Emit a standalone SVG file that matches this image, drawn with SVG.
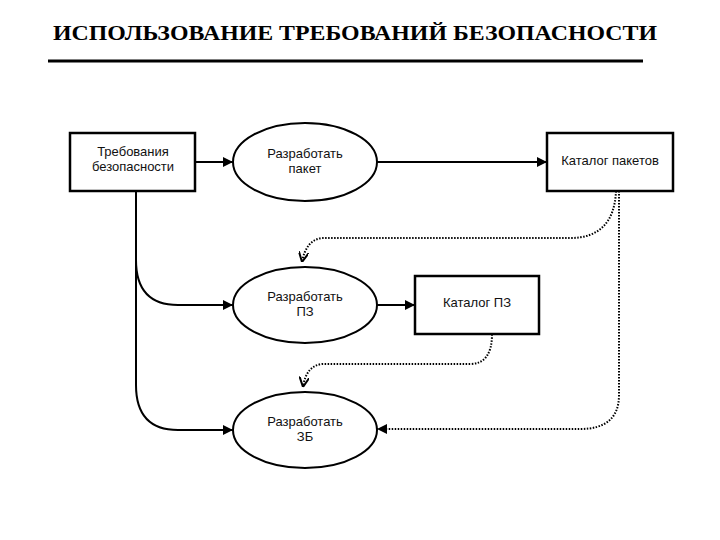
<svg xmlns="http://www.w3.org/2000/svg" width="720" height="540" viewBox="0 0 720 540">
<style>
.title{font-family:"Liberation Serif","Times New Roman",serif;font-weight:bold;font-size:22px;fill:#000}
.lbl{font-family:"Liberation Sans",Arial,sans-serif;font-size:13px;fill:#111;text-anchor:middle}
.box{fill:#fff;stroke:#000;stroke-width:2.5}
.ell{fill:#fff;stroke:#000;stroke-width:2}
.solid{fill:none;stroke:#000;stroke-width:2}
.dot{fill:none;stroke:#000;stroke-width:2;stroke-dasharray:1.5 1.5}
</style>
<defs>
<marker id="tri" viewBox="0 0 10 10" refX="10" refY="5" markerWidth="10" markerHeight="10" markerUnits="userSpaceOnUse" orient="auto">
<path d="M0,0 L10,5 L0,10 z" fill="#000"/>
</marker>
<marker id="vee" viewBox="0 0 10 10" refX="10" refY="5" markerWidth="10" markerHeight="10" markerUnits="userSpaceOnUse" orient="auto">
<path d="M0,0 L10,5 L0,10" fill="none" stroke="#000" stroke-width="2"/>
</marker>
</defs>
<text class="title" x="355" y="40" text-anchor="middle" textLength="604" lengthAdjust="spacingAndGlyphs">ИСПОЛЬЗОВАНИЕ ТРЕБОВАНИЙ БЕЗОПАСНОСТИ</text>
<line x1="48" y1="61" x2="643" y2="61" stroke="#000" stroke-width="3"/>
<g id="connectors">
<line class="solid" x1="195" y1="162" x2="233" y2="162" marker-end="url(#tri)"/>
<line class="solid" x1="377" y1="162" x2="547" y2="162" marker-end="url(#tri)"/>
<path class="solid" d="M136,191 V260 Q136,305 178,305 H233" marker-end="url(#tri)"/>
<path class="solid" d="M136,260 V385 Q136,430 178,430 H233" marker-end="url(#tri)"/>
<line class="solid" x1="377" y1="305" x2="415" y2="305" marker-end="url(#tri)"/>
<path class="dot" d="M616,191 Q614,238 570,238 H322 Q306,240 302,262" marker-end="url(#vee)"/>
<path class="dot" d="M619,191 V395 Q619,429 580,429 H377" marker-end="url(#tri)"/>
<path class="dot" d="M492,334 Q492,364 470,364 H322 Q306,366 303,387" marker-end="url(#vee)"/>
</g>
<g id="req">
<rect class="box" x="70" y="133" width="125" height="58"/>
<text class="lbl" x="133" y="156">Требования</text>
<text class="lbl" x="133" y="171">безопасности</text>
</g>
<g id="dev-pkg">
<ellipse class="ell" cx="305" cy="162" rx="72" ry="39"/>
<text class="lbl" x="305" y="158">Разработать</text>
<text class="lbl" x="305" y="173">пакет</text>
</g>
<g id="pkg-cat">
<rect class="box" x="547" y="133" width="126" height="58"/>
<text class="lbl" x="610" y="165">Каталог пакетов</text>
</g>
<g id="dev-pz">
<ellipse class="ell" cx="305" cy="305" rx="72" ry="38"/>
<text class="lbl" x="305" y="301">Разработать</text>
<text class="lbl" x="305" y="316">ПЗ</text>
</g>
<g id="pz-cat">
<rect class="box" x="415" y="276" width="124" height="58"/>
<text class="lbl" x="477" y="307">Каталог ПЗ</text>
</g>
<g id="dev-zb">
<ellipse class="ell" cx="305" cy="430" rx="72" ry="38"/>
<text class="lbl" x="305" y="426">Разработать</text>
<text class="lbl" x="305" y="441">ЗБ</text>
</g>
</svg>
